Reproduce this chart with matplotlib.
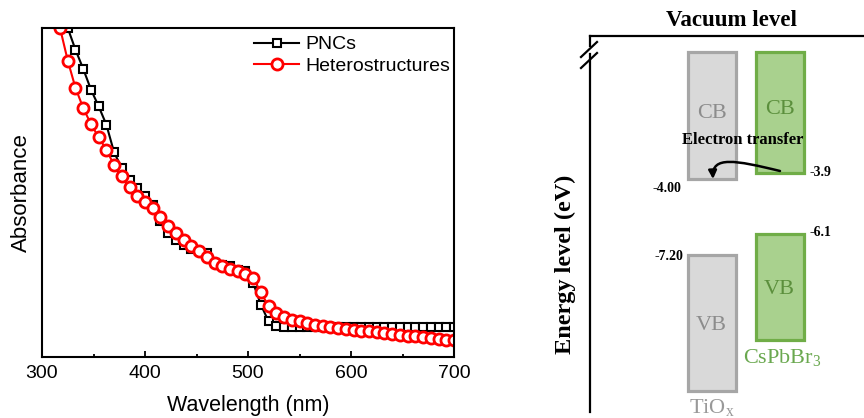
import matplotlib.pyplot as plt
from matplotlib.patches import Rectangle, FancyArrowPatch
from matplotlib.path import Path

plt.rcParams['mathtext.fontset'] = 'custom'
plt.rcParams['mathtext.rm'] = 'Liberation Serif'
plt.rcParams['mathtext.it'] = 'Liberation Serif:italic'

# absorbance spectra (normalised)
wl_pnc = [325, 332.5, 340, 347.5, 355, 362.5, 370, 377.5, 385, 392.5,
          400, 407.5, 415, 422.5, 430, 437.5, 445, 452.5, 460, 467.5,
          475, 482.5, 490, 497.5, 505, 512.5, 520, 527.5, 535, 542.5,
          550, 557.5, 565, 572.5, 580, 587.5, 595, 602.5, 610, 617.5,
          625, 632.5, 640, 647.5, 655, 662.5, 670, 677.5, 685, 692.5, 700]
abs_pnc = [1.000, 0.934, 0.876, 0.813, 0.762, 0.706, 0.622, 0.574, 0.539, 0.514,
           0.488, 0.463, 0.412, 0.377, 0.357, 0.341, 0.328, 0.321, 0.316, 0.286,
           0.281, 0.276, 0.265, 0.260, 0.225, 0.159, 0.108, 0.093, 0.092, 0.092,
           0.092, 0.092, 0.092, 0.092, 0.092, 0.092, 0.092, 0.092, 0.092, 0.092,
           0.092, 0.092, 0.092, 0.092, 0.092, 0.092, 0.092, 0.092, 0.092, 0.092, 0.092]

wl_het = [317.5, 325, 332.5, 340, 347.5, 355, 362.5, 370, 377.5, 385, 392.5,
          400, 407.5, 415, 422.5, 430, 437.5, 445, 452.5, 460, 467.5,
          475, 482.5, 490, 497.5, 505, 512.5, 520, 527.5, 535, 542.5,
          550, 557.5, 565, 572.5, 580, 587.5, 595, 602.5, 610, 617.5,
          625, 632.5, 640, 647.5, 655, 662.5, 670, 677.5, 685, 692.5, 700]
abs_het = [1.000, 0.901, 0.818, 0.757, 0.708, 0.668, 0.630, 0.583, 0.549, 0.516, 0.488,
           0.470, 0.453, 0.426, 0.397, 0.377, 0.357, 0.336, 0.321, 0.304, 0.286,
           0.276, 0.267, 0.260, 0.253, 0.240, 0.197, 0.154, 0.134, 0.121, 0.113,
           0.108, 0.103, 0.098, 0.095, 0.090, 0.088, 0.085, 0.083, 0.080, 0.078,
           0.075, 0.073, 0.070, 0.068, 0.065, 0.063, 0.061, 0.058, 0.055, 0.053, 0.051]

# energy diagram (schematic, figure pixel units)
materials = ['TiO$_\\mathrm{x}$', 'CsPbBr$_\\mathrm{3}$']
cb_labels = ['-4.00', '-3.9']
vb_labels = ['-7.20', '-6.1']
band_x = [686, 754]
band_w = 51
cb_top = [50, 50]
cb_bot = [180, 174]
vb_top = [253, 232]
vb_bot = [392, 341]
fills = ['#d9d9d9', '#a9d18e']
edges = ['#a6a6a6', '#70ad47']
txt_col = ['#8c8c8c', '#5b8f3c']

fig = plt.figure(figsize=(8.64, 4.18), dpi=100)

# ---- left: absorbance
ax = fig.add_axes([42/864, 61/418, 412/864, 329/418])
ax.plot(wl_pnc, abs_pnc, color='black', lw=1.5, marker='s', ms=5.5,
        mfc='white', mec='black', mew=1.5, label='PNCs')
ax.plot(wl_het, abs_het, color='red', lw=1.5, marker='o', ms=8,
        mfc='white', mec='red', mew=2, label='Heterostructures')
ax.set_xlim(300, 700)
ax.set_ylim(0, 1.0)
ax.set_xticks([300, 400, 500, 600, 700])
ax.set_xticks([350, 450, 550, 650], minor=True)
ax.set_yticks([])
ax.tick_params(axis='x', direction='in', length=4, width=1.3, labelsize=14, pad=6)
ax.tick_params(axis='x', which='minor', direction='in', length=2.5, width=1.3)
for lab in ax.get_xticklabels():
    lab.set_family('Liberation Sans')
for s in ax.spines.values():
    s.set_linewidth(1.5)
ax.set_xlabel('Wavelength (nm)', fontsize=15.5, family='Liberation Sans', labelpad=9)
ax.set_ylabel('Absorbance', fontsize=16, family='Liberation Sans', labelpad=7)
ax.legend(loc='upper right', bbox_to_anchor=(1.02, 1.012), frameon=False,
          prop={'family': 'Liberation Sans', 'size': 14}, handlelength=2.3,
          handletextpad=0.35, labelspacing=0.2, borderaxespad=0.2)

# ---- right: energy level diagram
ov = fig.add_axes([0, 0, 1, 1])
ov.set_xlim(0, 864)
ov.set_ylim(418, 0)
ov.axis('off')
serif = 'Liberation Serif'

ov.plot([590, 864], [36, 36], color='black', lw=1.6)
ov.plot([590, 590], [36, 46], color='black', lw=1.6)
ov.plot([590, 590], [54, 412], color='black', lw=1.6)
ov.plot([581, 597], [57, 42], color='black', lw=1.6)
ov.plot([581, 597], [68, 53], color='black', lw=1.6)
ov.text(731, 21, 'Vacuum level', ha='center', va='center', fontsize=16.5,
        fontweight='bold', family=serif)
ov.text(565, 264, 'Energy level (eV)', ha='center', va='center', rotation=90,
        fontsize=17.5, fontweight='bold', family=serif)

for i in range(2):
    x0 = band_x[i]
    for top, bot, name in [(cb_top[i], cb_bot[i], 'CB'), (vb_top[i], vb_bot[i], 'VB')]:
        ov.add_patch(Rectangle((x0 + 1.5, top + 1.5), band_w - 3, bot - top - 3,
                               facecolor=fills[i], edgecolor=edges[i], lw=2.3))
        ypos = (top + bot) / 2 + 3 if name == 'VB' else top + 63 - 4 * i
        ov.text(x0 + band_w / 2, ypos, name,
                ha='center', va='center', fontsize=16, color=txt_col[i], family=serif)

ov.text(712, 408, materials[0], ha='center', va='center', fontsize=16,
        color='#999999', family=serif)
ov.text(782, 357, materials[1], ha='center', va='center', fontsize=16,
        color='#6aa84f', family=serif)

ov.text(667, 188, cb_labels[0], ha='center', va='center', fontsize=10,
        fontweight='bold', family=serif)
ov.text(810, 172, cb_labels[1], ha='left', va='center', fontsize=10,
        fontweight='bold', family=serif)
ov.text(810, 232, vb_labels[1], ha='left', va='center', fontsize=10,
        fontweight='bold', family=serif)
ov.text(683, 257, vb_labels[0], ha='right', va='center', fontsize=10,
        fontweight='bold', family=serif)

ov.text(743, 140, 'Electron transfer', ha='center', va='center', fontsize=12,
        fontweight='bold', family=serif)
arrow_path = Path([(780, 171), (735, 160), (712, 156), (713, 179)],
                  [Path.MOVETO, Path.CURVE4, Path.CURVE4, Path.CURVE4])
ov.add_patch(FancyArrowPatch(path=arrow_path, arrowstyle='-|>',
                             mutation_scale=12, lw=1.8, color='black'))

fig.savefig('out.png', dpi=100)
